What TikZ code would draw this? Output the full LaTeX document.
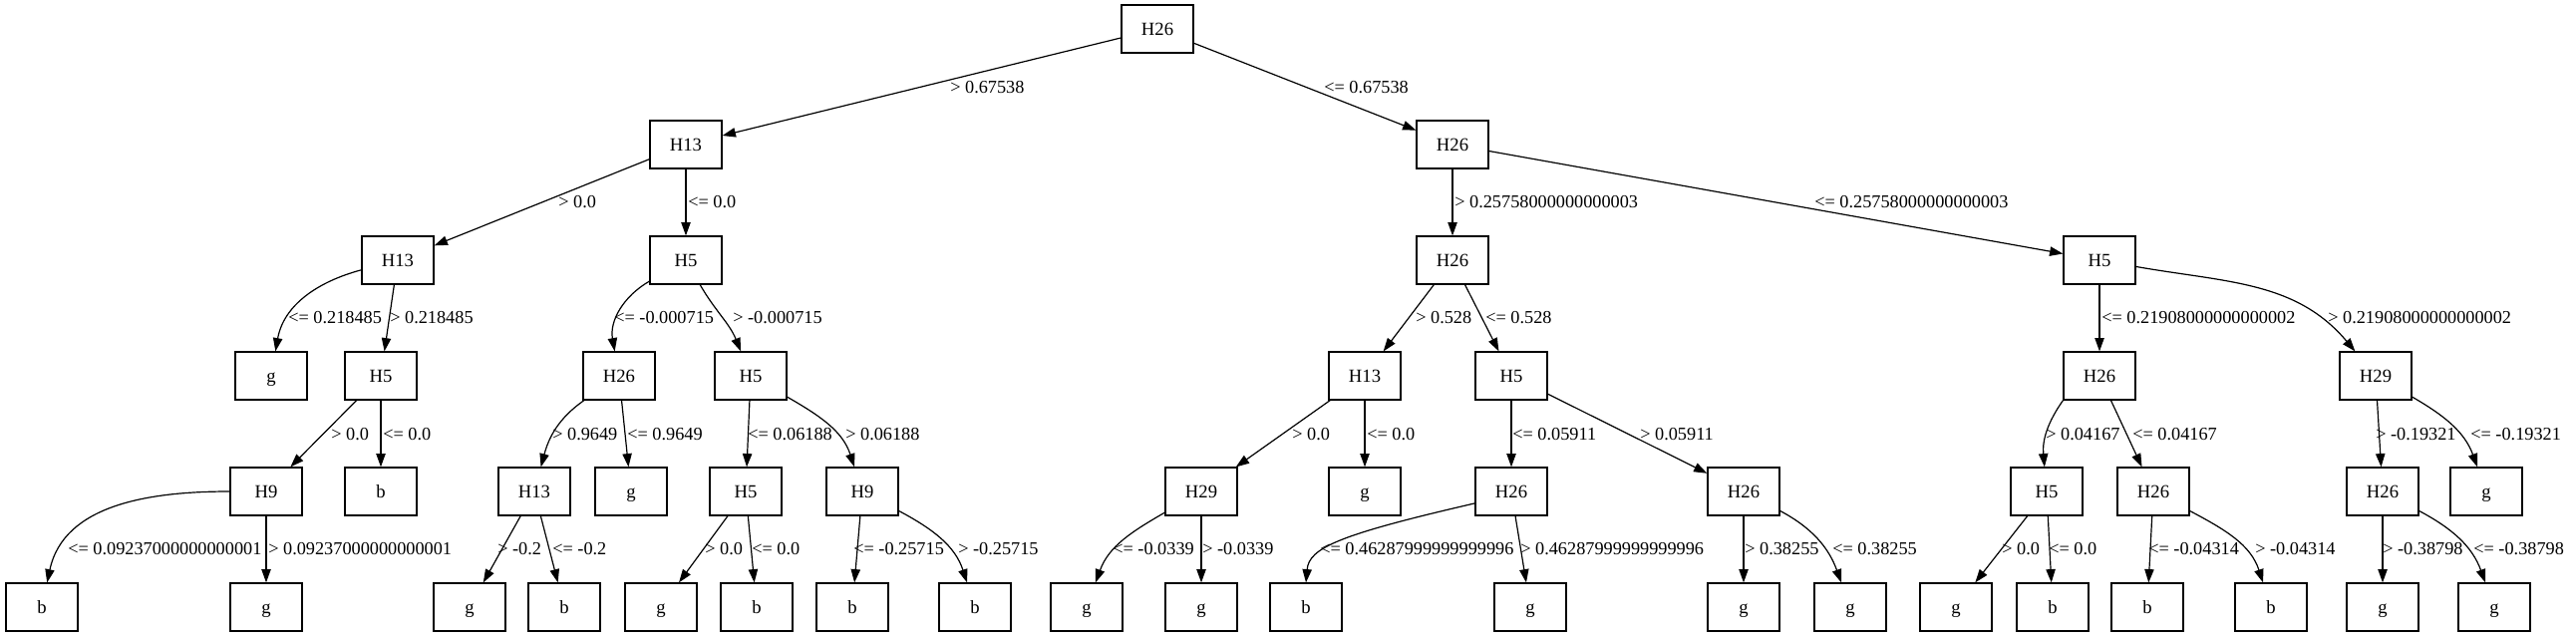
\documentclass[tikz,border=0pt]{standalone}
\usepackage{fontspec}
\setmainfont{Liberation Serif}
\usetikzlibrary{arrows.meta}

\begin{document}
\begin{tikzpicture}[x=0.75pt, y=0.75pt,
    box/.style={draw, line width=0.9pt, minimum width=54pt, minimum height=36pt, inner sep=0pt,
        text height=9.5pt, text depth=0pt, font=\fontsize{14}{16}\selectfont},
    edge/.style={-{Triangle[length=10pt, width=7pt]}, line width=0.9pt},
    cond/.style={anchor=west, inner sep=0pt, text height=9.3pt, text depth=0pt,
        font=\fontsize{13.7}{16}\selectfont}]

\useasboundingbox (0,0) rectangle (2584,-639);

\node[box] (root) at (1161,-29) {H26};

\node[box] (l) at (688,-145) {H13};
\node[box] (r) at (1457,-145) {H26};

\node[box] (ll) at (399,-261) {H13};
\node[box] (lr) at (688,-261) {H5};
\node[box] (rl) at (1457,-261) {H26};
\node[box] (rr) at (2106,-261) {H5};

\node[box] (lll) at (272,-377) {g};
\node[box] (llr) at (382,-377) {H5};
\node[box] (lrl) at (621,-377) {H26};
\node[box] (lrr) at (753,-377) {H5};
\node[box] (rll) at (1369,-377) {H13};
\node[box] (rlr) at (1516,-377) {H5};
\node[box] (rrl) at (2106,-377) {H26};
\node[box] (rrr) at (2383,-377) {H29};

\node[box] (llrl) at (267,-493) {H9};
\node[box] (llrr) at (382,-493) {b};
\node[box] (lrll) at (536,-493) {H13};
\node[box] (lrlr) at (633,-493) {g};
\node[box] (lrrl) at (748,-493) {H5};
\node[box] (lrrr) at (865,-493) {H9};
\node[box] (rlll) at (1205,-493) {H29};
\node[box] (rllr) at (1369,-493) {g};
\node[box] (rlrl) at (1516,-493) {H26};
\node[box] (rlrr) at (1749,-493) {H26};
\node[box] (rrll) at (2053,-493) {H5};
\node[box] (rrlr) at (2160,-493) {H26};
\node[box] (rrrl) at (2390,-493) {H26};
\node[box] (rrrr) at (2494,-493) {g};

\node[box] (llrll) at (42,-609) {b};
\node[box] (llrlr) at (267,-609) {g};
\node[box] (lrlll) at (471,-609) {g};
\node[box] (lrllr) at (566,-609) {b};
\node[box] (lrrll) at (663,-609) {g};
\node[box] (lrrlr) at (759,-609) {b};
\node[box] (lrrrl) at (855,-609) {b};
\node[box] (lrrrr) at (978,-609) {b};
\node[box] (rllll) at (1090,-609) {g};
\node[box] (rlllr) at (1205,-609) {g};
\node[box] (rlrll) at (1310,-609) {b};
\node[box] (rlrlr) at (1535,-609) {g};
\node[box] (rlrrl) at (1749,-609) {g};
\node[box] (rlrrr) at (1856,-609) {g};
\node[box] (rrlll) at (1962,-609) {g};
\node[box] (rrllr) at (2059,-609) {b};
\node[box] (rrlrl) at (2154,-609) {b};
\node[box] (rrlrr) at (2278,-609) {b};
\node[box] (rrrll) at (2390,-609) {g};
\node[box] (rrrlr) at (2502,-609) {g};

\draw[edge] (root) -- (l);
\draw[edge] (root) -- (r);
\node[cond] (cl) at (953,-87) {> 0.67538};
\node[cond] (cr) at (1328,-87) {<= 0.67538};

\draw[edge] (l) -- (ll);
\draw[edge] (l) -- (lr);
\draw[edge] (r) -- (rl);
\draw[edge] (r) -- (rr);
\node[cond] (cll) at (560,-202) {> 0.0};
\node[cond] (clr) at (690,-202) {<= 0.0};
\node[cond] (crl) at (1459,-202) {> 0.25758000000000003};
\node[cond] (crr) at (1820,-202) {<= 0.25758000000000003};

\draw[edge] (ll) to[out=195, in=80] (lll);
\draw[edge] (ll) -- (llr);
\draw[edge] (lr) to[out=210, in=100] (lrl);
\draw[edge] (lr) to[out=-60, in=112] (lrr);
\draw[edge] (rl) -- (rll);
\draw[edge] (rl) -- (rlr);
\draw[edge] (rr) -- (rrl);
\draw[edge] (rr) to[out=-10, in=130] (rrr);
\node[cond] (clll) at (289,-318) {<= 0.218485};
\node[cond] (cllr) at (391,-318) {> 0.218485};
\node[cond] (clrl) at (616,-318) {<= -0.000715};
\node[cond] (clrr) at (735,-318) {> -0.000715};
\node[cond] (crll) at (1420,-318) {> 0.528};
\node[cond] (crlr) at (1490,-318) {<= 0.528};
\node[cond] (crrl) at (2108,-318) {<= 0.21908000000000002};
\node[cond] (crrr) at (2335,-318) {> 0.21908000000000002};

\draw[edge] (llr) -- (llrl);
\draw[edge] (llr) -- (llrr);
\draw[edge] (lrl) to[out=215, in=75] (lrll);
\draw[edge] (lrl) -- (lrlr);
\draw[edge] (lrr) -- (lrrl);
\draw[edge] (lrr) to[out=-30, in=108] (lrrr);
\draw[edge] (rll) -- (rlll);
\draw[edge] (rll) -- (rllr);
\draw[edge] (rlr) -- (rlrl);
\draw[edge] (rlr) -- (rlrr);
\draw[edge] (rrl.south west) to[out=235, in=95] (rrll);
\draw[edge] (rrl) -- (rrlr);
\draw[edge] (rrr) -- (rrrl);
\draw[edge] (rrr) to[out=-30, in=110] (rrrr);
\node[cond] (cllrl) at (332,-435) {> 0.0};
\node[cond] (cllrr) at (384,-435) {<= 0.0};
\node[cond] (clrll) at (554,-435) {> 0.9649};
\node[cond] (clrlr) at (629,-435) {<= 0.9649};
\node[cond] (clrrl) at (750,-435) {<= 0.06188};
\node[cond] (clrrr) at (848,-435) {> 0.06188};
\node[cond] (crlll) at (1296,-435) {> 0.0};
\node[cond] (crllr) at (1371,-435) {<= 0.0};
\node[cond] (crlrl) at (1517,-435) {<= 0.05911};
\node[cond] (crlrr) at (1645,-435) {> 0.05911};
\node[cond] (crrll) at (2052,-435) {> 0.04167};
\node[cond] (crrlr) at (2139,-435) {<= 0.04167};
\node[cond] (crrrl) at (2383,-435) {> -0.19321};
\node[cond] (crrrr) at (2478,-435) {<= -0.19321};

\draw[edge] (llrl) to[out=180, in=78] (llrll);
\draw[edge] (llrl) -- (llrlr);
\draw[edge] (lrll) -- (lrlll);
\draw[edge] (lrll) -- (lrllr);
\draw[edge] (lrrl) -- (lrrll);
\draw[edge] (lrrl) -- (lrrlr);
\draw[edge] (lrrr) -- (lrrrl);
\draw[edge] (lrrr) to[out=-28, in=108] (lrrrr);
\draw[edge] (rlll) to[out=210, in=70] (rllll);
\draw[edge] (rlll) -- (rlllr);
\draw[edge] (rlrl.198) .. controls +(193:140) and +(85:35) .. (rlrll.north);
\draw[edge] (rlrl) -- (rlrlr);
\draw[edge] (rlrr) -- (rlrrl);
\draw[edge] (rlrr) to[out=-28, in=110] (rlrrr);
\draw[edge] (rrll) -- (rrlll);
\draw[edge] (rrll) -- (rrllr);
\draw[edge] (rrlr) -- (rrlrl);
\draw[edge] (rrlr) to[out=-28, in=108] (rrlrr);
\draw[edge] (rrrl) -- (rrrll);
\draw[edge] (rrrl) to[out=-28, in=110] (rrrlr);
\node[cond] (cllrll) at (68,-550) {<= 0.09237000000000001};
\node[cond] (cllrlr) at (269,-550) {> 0.09237000000000001};
\node[cond] (clrlll) at (499,-550) {> -0.2};
\node[cond] (clrllr) at (554,-550) {<= -0.2};
\node[cond] (clrrll) at (707,-550) {> 0.0};
\node[cond] (clrrlr) at (754,-550) {<= 0.0};
\node[cond] (clrrrl) at (856,-550) {<= -0.25715};
\node[cond] (clrrrr) at (961,-550) {> -0.25715};
\node[cond] (crllll) at (1116,-550) {<= -0.0339};
\node[cond] (crlllr) at (1206,-550) {> -0.0339};
\node[cond] (crlrll) at (1324,-550) {<= 0.46287999999999996};
\node[cond] (crlrlr) at (1525,-550) {> 0.46287999999999996};
\node[cond] (crlrrl) at (1750,-550) {> 0.38255};
\node[cond] (crlrrr) at (1838,-550) {<= 0.38255};
\node[cond] (crrlll) at (2008,-550) {> 0.0};
\node[cond] (crrllr) at (2055,-550) {<= 0.0};
\node[cond] (crrlrl) at (2155,-550) {<= -0.04314};
\node[cond] (crrlrr) at (2262,-550) {> -0.04314};
\node[cond] (crrrll) at (2390,-550) {> -0.38798};
\node[cond] (crrrlr) at (2481,-550) {<= -0.38798};
\end{tikzpicture}
\end{document}
